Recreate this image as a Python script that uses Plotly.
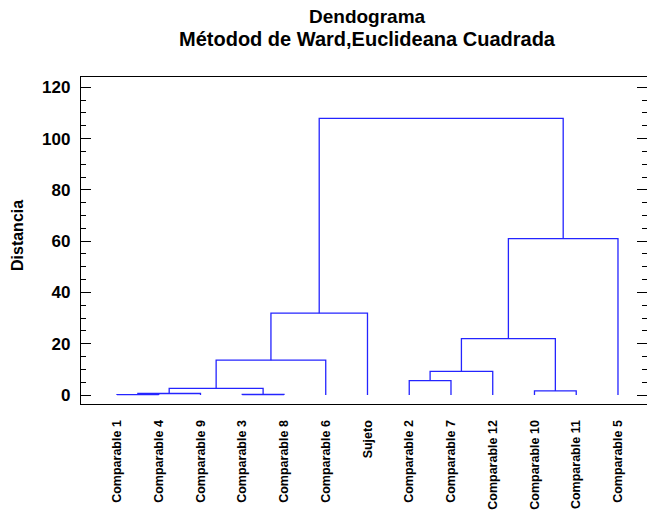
import plotly.graph_objects as go

# ---- data ----
leaves = ["Comparable 1", "Comparable 4", "Comparable 9", "Comparable 3", "Comparable 8",
          "Comparable 6", "Sujeto", "Comparable 2", "Comparable 7", "Comparable 12",
          "Comparable 10", "Comparable 11", "Comparable 5"]
# merges: (node_a, node_b, height); leaves are nodes 0..12, new clusters numbered from 13
merge_a = [0, 13, 3, 14, 16, 17, 7, 19, 10, 20, 22, 18]
merge_b = [1, 2, 4, 15, 5, 6, 8, 9, 11, 21, 12, 23]
merge_h = [0.15, 0.6, 0.2, 2.6, 13.6, 31.9, 5.6, 9.2, 1.6, 22.0, 61.0, 107.9]
y_ticks = [0, 20, 40, 60, 80, 100, 120]

title1 = "Dendograma"
title2 = "Métodod de Ward,Euclideana Cuadrada"
y_title = "Distancia"

# ---- build dendrogram lines ----
pos = {i: float(i) for i in range(len(leaves))}
hgt = {i: 0.0 for i in range(len(leaves))}
xs, ys = [], []
for k, (a, b, h) in enumerate(zip(merge_a, merge_b, merge_h)):
    node = len(leaves) + k
    xs += [pos[a], pos[a], pos[b], pos[b], None]
    ys += [hgt[a], h, h, hgt[b], None]
    pos[node] = (pos[a] + pos[b]) / 2
    hgt[node] = h

FONT = "Liberation Sans, Arial, sans-serif"
fig = go.Figure()
fig.add_trace(go.Scatter(x=xs, y=ys, mode="lines",
                         line=dict(color="#2424ff", width=1.3),
                         hoverinfo="skip", showlegend=False))

W, H = 647, 510
L, R, T, B = 81, 0, 77, 106
fig.update_layout(
    width=W, height=H,
    margin=dict(l=L, r=R, t=T, b=B),
    paper_bgcolor="white", plot_bgcolor="white",
    font=dict(family=FONT, color="black"),
    xaxis=dict(
        range=[-0.862, 12.695],
        tickmode="array", tickvals=list(range(len(leaves))), ticktext=leaves,
        tickangle=-90, ticks="", showgrid=False, zeroline=False,
        showline=True, linecolor="black", linewidth=1.3, mirror=True,
        tickfont=dict(family=FONT, size=12.5, weight="bold", color="black"),
        ticklabelstandoff=10,
    ),
    yaxis=dict(
        range=[-3.5, 124],
        tickmode="array", tickvals=y_ticks,
        ticks="inside", ticklen=10, tickwidth=1, tickcolor="black",
        minor=dict(dtick=5, ticks="inside", ticklen=5, tickwidth=1, tickcolor="black", showgrid=False),
        showgrid=False, zeroline=False,
        showline=True, linecolor="black", linewidth=1.3, mirror="ticks",
        tickfont=dict(family=FONT, size=17, weight="bold", color="black"),
        ticklabelstandoff=6,
    ),
    annotations=[
        dict(text=title1, xref="paper", yref="paper", x=(367 - L) / (W - L - R),
             y=1 + (T - 16) / (H - T - B), xanchor="center", yanchor="middle", showarrow=False,
             font=dict(family=FONT, size=19, weight="bold", color="black")),
        dict(text=title2, xref="paper", yref="paper", x=(367 - L) / (W - L - R),
             y=1 + (T - 39) / (H - T - B), xanchor="center", yanchor="middle", showarrow=False,
             font=dict(family=FONT, size=20, weight="bold", color="black")),
        dict(text=y_title, xref="paper", yref="paper", x=(17 - L) / (W - L - R),
             y=(H - B - 236) / (H - T - B), xanchor="center", yanchor="middle", showarrow=False,
             textangle=-90, font=dict(family=FONT, size=16, weight="bold", color="black")),
    ],
)
fig.write_html("out.html")
